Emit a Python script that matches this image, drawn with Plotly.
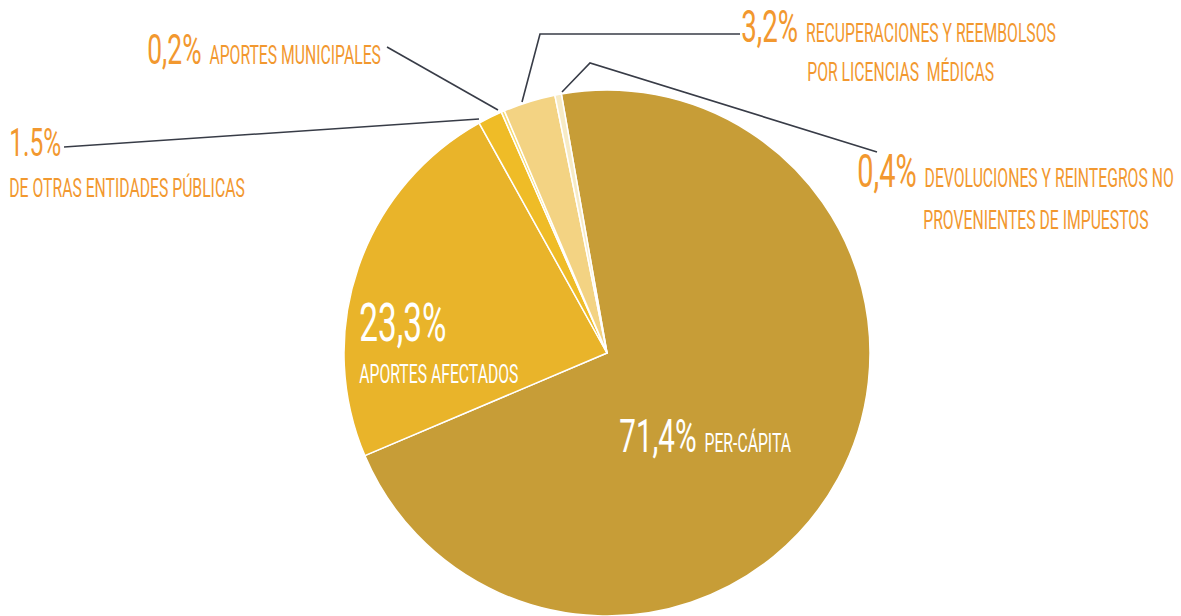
import plotly.graph_objects as go

# ---- data ----
categories = [
    "PER-CÁPITA",
    "APORTES AFECTADOS",
    "DE OTRAS ENTIDADES PÚBLICAS",
    "APORTES MUNICIPALES",
    "RECUPERACIONES Y REEMBOLSOS POR LICENCIAS MÉDICAS",
    "DEVOLUCIONES Y REINTEGROS NO PROVENIENTES DE IMPUESTOS",
]
values = [71.4, 23.3, 1.5, 0.2, 3.2, 0.4]
pct_labels = ["71,4%", "23,3%", "1.5%", "0,2%", "3,2%", "0,4%"]
colors = ["#C79D37", "#E9B42A", "#EFBC27", "#F6DA6E", "#F3D383", "#F7EBC6"]

W, H = 1181, 616
FONT = "Roboto, sans-serif"
ORANGE = "#F2982F"
LINE = "#383C47"
CONDENSE = 0.63  # horizontal squeeze of the label text (condensed display face)


def px(x):
    return x / W


def py(y):
    return 1 - y / H


fig = go.Figure(
    go.Pie(
        labels=categories,
        values=values,
        sort=False,
        direction="clockwise",
        rotation=-10,
        marker=dict(colors=colors, line=dict(color="white", width=1.5)),
        textinfo="none",
        hoverinfo="label+percent",
        showlegend=False,
        domain=dict(x=[px(344), px(870)], y=[0, py(90)]),
    )
)

annotations = []


def label(x, baseline, big_text, small_text, big, small, color):
    txt = ""
    if big_text:
        txt += f"<span style='font-size:{big}px'>{big_text}</span>"
    if small_text:
        sep = "&nbsp;&nbsp;" if big_text else ""
        txt += f"<span style='font-size:{small}px'>{sep}{small_text}</span>"
    size = big if big_text else small
    annotations.append(dict(
        x=px(x), y=py(baseline + 0.244 * size + 1), xref="paper", yref="paper",
        xanchor="left", yanchor="bottom", showarrow=False, text=txt,
        font=dict(family=FONT, color=color, size=size), align="left",
    ))


SMALL = 25
label(146, 65, pct_labels[3], "APORTES MUNICIPALES", 42, SMALL, ORANGE)
label(8, 157, pct_labels[2], "", 39, SMALL, ORANGE)
label(8, 198, "", "DE OTRAS ENTIDADES PÚBLICAS", 39, SMALL, ORANGE)
label(740, 43, pct_labels[4], "RECUPERACIONES Y REEMBOLSOS", 44, SMALL, ORANGE)
label(806, 82, "", "POR LICENCIAS &nbsp;MÉDICAS", 44, SMALL, ORANGE)
label(856, 188, pct_labels[5], "DEVOLUCIONES Y REINTEGROS NO", 46, SMALL, ORANGE)
label(922, 230, "", "PROVENIENTES DE IMPUESTOS", 46, SMALL, ORANGE)
label(358, 342, pct_labels[1], "", 53, SMALL, "white")
label(358, 384, "", "APORTES AFECTADOS", 53, SMALL, "white")
label(618, 453, pct_labels[0], "PER-CÁPITA", 47, SMALL, "white")

# leader lines
leaders = [
    [(387, 47), (498, 110)],
    [(64, 147), (479, 119)],
    [(740, 34), (540, 34), (522, 102)],
    [(877, 152), (590, 63), (562, 92)],
]
shapes = []
for pts in leaders:
    path = "M " + " L ".join(f"{px(a):.5f},{py(b):.5f}" for a, b in pts)
    shapes.append(dict(type="path", path=path, xref="paper", yref="paper",
                       line=dict(color=LINE, width=1.6)))

fig.update_layout(
    width=W, height=H,
    margin=dict(l=0, r=0, t=0, b=0),
    paper_bgcolor="white", plot_bgcolor="white",
    annotations=annotations, shapes=shapes,
)

post = """
document.body.style.margin = '0';
var gd = document.getElementById('{plot_id}');
function condense() {
  gd.querySelectorAll('text.annotation-text').forEach(function (t) {
    t.setAttribute('transform', 'scale(%s,1)');
  });
}
condense();
gd.on('plotly_afterplot', condense);
""" % CONDENSE

fig.write_html("out.html", post_script=post, config={"displayModeBar": False})
